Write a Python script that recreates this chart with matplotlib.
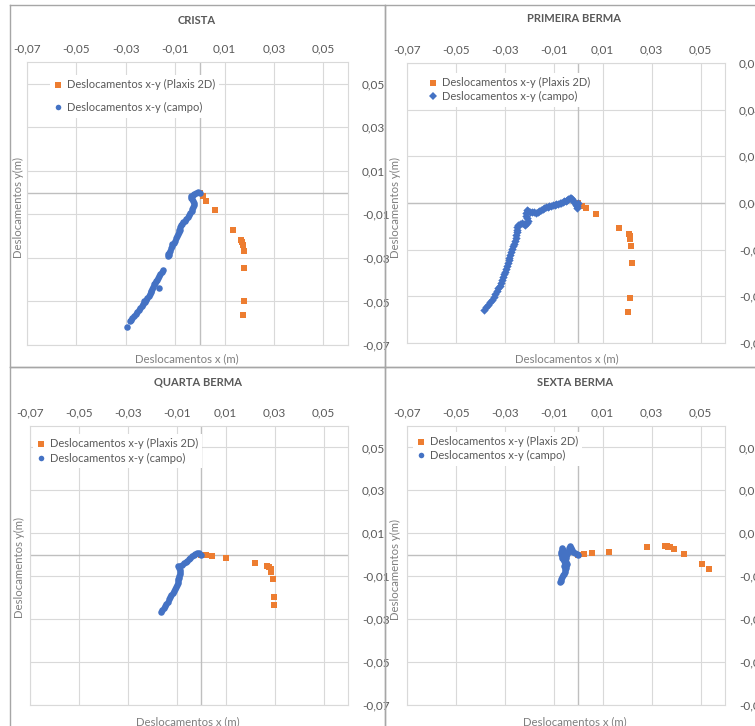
import numpy as np
import matplotlib
matplotlib.use("Agg")
import matplotlib.pyplot as plt
from matplotlib.lines import Line2D

plt.rcParams['font.family'] = ['Lato', 'DejaVu Sans']

W, H = 755, 726

# ---------------- data ----------------
titles = ["CRISTA", "PRIMEIRA BERMA", "QUARTA BERMA", "SEXTA BERMA"]
label_plaxis = "Deslocamentos x-y (Plaxis 2D)"
label_campo = "Deslocamentos x-y (campo)"
x_title = "Deslocamentos x (m)"
y_title = "Deslocamentos y(m)"

x_ticks = [-0.07, -0.05, -0.03, -0.01, 0.01, 0.03, 0.05]
y_ticks_a = [-0.07, -0.05, -0.03, -0.01, 0.01, 0.03, 0.05]
y_ticks_b = [-0.06, -0.04, -0.02, 0.00, 0.02, 0.04, 0.06]

# CRISTA
crista_plaxis_x = [0.0, 0.0011, 0.0024, 0.0060, 0.0134, 0.0167, 0.0170, 0.0173, 0.0177, 0.0177, 0.0177, 0.0173]
crista_plaxis_y = [0.0, -0.0016, -0.0037, -0.0078, -0.0174, -0.0217, -0.0228, -0.0240, -0.0270, -0.0346, -0.0500, -0.0561]
crista_campo_x = [0.0, -0.0008, -0.0015, -0.0022, -0.0029, -0.0035, -0.0037, -0.0031, -0.0026, -0.0024,
                  -0.0023, -0.0026, -0.0030, -0.0033, -0.0038, -0.0044, -0.0050, -0.0056, -0.0061, -0.0067,
                  -0.0073, -0.0078, -0.0080, -0.0082, -0.0086, -0.0089, -0.0093, -0.0096, -0.0101, -0.0106,
                  -0.0111, -0.0116, -0.0120, -0.0124, -0.0127, -0.0129, -0.0125,
                  -0.0150, -0.0155, -0.0160, -0.0165, -0.0170, -0.0175, -0.0180, -0.0185, -0.0190, -0.0195,
                  -0.0199, -0.0203, -0.0207, -0.0212, -0.0217, -0.0223, -0.0229, -0.0235, -0.0241, -0.0247,
                  -0.0253, -0.0259, -0.0266, -0.0273, -0.0280, -0.0284, -0.0297, -0.0165,
                  -0.0178, -0.0198, -0.0226, -0.0085, -0.0112]
crista_campo_y = [0.0, 0.0001, -0.0002, -0.0006, -0.0010, -0.0016, -0.0023, -0.0030, -0.0038, -0.0047,
                  -0.0056, -0.0066, -0.0076, -0.0085, -0.0095, -0.0105, -0.0113, -0.0122, -0.0130, -0.0137,
                  -0.0144, -0.0150, -0.0160, -0.0170, -0.0180, -0.0190, -0.0200, -0.0210, -0.0220, -0.0232,
                  -0.0244, -0.0256, -0.0266, -0.0276, -0.0283, -0.0289, -0.0286,
                  -0.0354, -0.0364, -0.0374, -0.0384, -0.0394, -0.0403, -0.0413, -0.0422, -0.0432, -0.0444,
                  -0.0455, -0.0465, -0.0474, -0.0484, -0.0494, -0.0503, -0.0512, -0.0521, -0.0530, -0.0539,
                  -0.0548, -0.0557, -0.0566, -0.0575, -0.0585, -0.0592, -0.0616, -0.0437,
                  -0.0405, -0.0450, -0.0500, -0.0172, -0.0236]

# PRIMEIRA BERMA
primeira_plaxis_x = [0.0, 0.0014, 0.0032, 0.0073, 0.0167, 0.0208, 0.0212, 0.0213, 0.0216, 0.0219, 0.0213, 0.0204]
primeira_plaxis_y = [0.0, -0.0011, -0.0023, -0.0049, -0.0109, -0.0134, -0.0141, -0.0153, -0.0184, -0.0256, -0.0406, -0.0469]
primeira_campo_x = [0.0, -0.0006, -0.0004, -0.0010, -0.0015, -0.0020, -0.0025, -0.0029, -0.0034, -0.0040,
                    -0.0046, -0.0052, -0.0058, -0.0064, -0.0070, -0.0076, -0.0083, -0.0090, -0.0097, -0.0104,
                    -0.0111, -0.0118, -0.0125, -0.0132, -0.0139, -0.0146, -0.0153, -0.0160, -0.0166, -0.0172,
                    -0.0180, -0.0188, -0.0196, -0.0204, -0.0211, -0.0213, -0.0212, -0.0208, -0.0205, -0.0210,
                    -0.0216, -0.0223, -0.0231, -0.0239, -0.0246, -0.0249, -0.0250, -0.0252, -0.0254, -0.0256,
                    -0.0259, -0.0262, -0.0265, -0.0269, -0.0273, -0.0277, -0.0281, -0.0285, -0.0289, -0.0293,
                    -0.0297, -0.0301, -0.0305, -0.0309, -0.0313, -0.0317, -0.0321, -0.0326, -0.0332, -0.0339,
                    -0.0346, -0.0354, -0.0361, -0.0368, -0.0375, -0.0384]
primeira_campo_y = [0.0, -0.0012, -0.0022, -0.0008, 0.0000, 0.0008, 0.0016, 0.0022, 0.0020, 0.0016,
                    0.0012, 0.0010, 0.0007, 0.0003, 0.0000, -0.0002, -0.0004, -0.0006, -0.0008, -0.0009,
                    -0.0011, -0.0014, -0.0016, -0.0018, -0.0022, -0.0027, -0.0031, -0.0033, -0.0040, -0.0043,
                    -0.0040, -0.0038, -0.0037, -0.0035, -0.0030, -0.0042, -0.0055, -0.0066, -0.0075, -0.0085,
                    -0.0093, -0.0090, -0.0087, -0.0088, -0.0094, -0.0104, -0.0115, -0.0126, -0.0138, -0.0150,
                    -0.0162, -0.0174, -0.0186, -0.0198, -0.0210, -0.0222, -0.0234, -0.0246, -0.0258, -0.0270,
                    -0.0282, -0.0294, -0.0306, -0.0318, -0.0330, -0.0342, -0.0354, -0.0366, -0.0378, -0.0390,
                    -0.0402, -0.0414, -0.0425, -0.0436, -0.0446, -0.0459]

# QUARTA BERMA
quarta_plaxis_x = [0.0, 0.0018, 0.0045, 0.0100, 0.0220, 0.0270, 0.0277, 0.0284, 0.0287, 0.0295, 0.0297, 0.0297]
quarta_plaxis_y = [0.0, 0.0000, -0.0006, -0.0017, -0.0040, -0.0050, -0.0055, -0.0066, -0.0079, -0.0114, -0.0195, -0.0234]
quarta_campo_x = [0.0, -0.0008, -0.0016, -0.0024, -0.0031, -0.0038, -0.0045, -0.0052, -0.0058, -0.0064,
                  -0.0071, -0.0078, -0.0086, -0.0093, -0.0091, -0.0087, -0.0086, -0.0088, -0.0090, -0.0091,
                  -0.0093, -0.0095, -0.0097, -0.0099, -0.0103, -0.0107, -0.0112, -0.0117, -0.0122, -0.0127,
                  -0.0132, -0.0137, -0.0142, -0.0148, -0.0154, -0.0160, -0.0164]
quarta_campo_y = [0.0, 0.0007, 0.0009, 0.0005, 0.0000, -0.0007, -0.0014, -0.0021, -0.0028, -0.0034,
                  -0.0040, -0.0046, -0.0051, -0.0054, -0.0062, -0.0070, -0.0079, -0.0088, -0.0097, -0.0106,
                  -0.0115, -0.0124, -0.0133, -0.0142, -0.0151, -0.0160, -0.0169, -0.0178, -0.0188, -0.0198,
                  -0.0208, -0.0218, -0.0228, -0.0238, -0.0248, -0.0257, -0.0265]

# SEXTA BERMA
sexta_plaxis_x = [0.0, 0.0025, 0.0055, 0.0127, 0.0283, 0.0355, 0.0362, 0.0368, 0.0375, 0.0393, 0.0433, 0.0505, 0.0536]
sexta_plaxis_y = [0.0, 0.0004, 0.0007, 0.0015, 0.0035, 0.0043, 0.0041, 0.0038, 0.0035, 0.0026, 0.0004, -0.0044, -0.0068]
sexta_campo_x = [0.0, -0.0007, -0.0013, -0.0020, -0.0026, -0.0031, -0.0034, -0.0036, -0.0038, -0.0041,
                 -0.0044, -0.0049, -0.0054, -0.0059, -0.0063, -0.0067, -0.0068, -0.0069, -0.0069, -0.0068,
                 -0.0067, -0.0064, -0.0060, -0.0056, -0.0052, -0.0050, -0.0058, -0.0062, -0.0048, -0.0047,
                 -0.0048, -0.0050, -0.0053, -0.0056, -0.0059, -0.0063, -0.0066, -0.0069, -0.0071, -0.0073,
                 -0.0055, -0.0060, -0.0054]
sexta_campo_y = [0.0, 0.0003, 0.0007, 0.0013, 0.0021, 0.0030, 0.0039, 0.0030, 0.0021, 0.0011,
                 0.0002, 0.0004, 0.0008, 0.0014, 0.0021, 0.0030, 0.0022, 0.0013, 0.0004, -0.0005,
                 -0.0014, -0.0022, -0.0030, -0.0024, -0.0016, -0.0008, -0.0008, -0.0004, -0.0036, -0.0045,
                 -0.0054, -0.0063, -0.0072, -0.0080, -0.0088, -0.0096, -0.0104, -0.0112, -0.0120, -0.0127,
                 -0.0040, -0.0050, -0.0060]

# ---------------- style ----------------
ORANGE = "#ED7D31"
BLUE = "#4472C4"
TXT = "#595959"
AXT = "#7F7F7F"
GRID = "#D9D9D9"
AXLINE = "#BFBFBF"
BORDER = "#A6A6A6"

fig = plt.figure(figsize=(W / 100, H / 100), dpi=100)
fig.patch.set_facecolor("white")


def fx(px):
    return px / W


def fy(py):
    return 1 - py / H


def fmt(v):
    s = f"{v:.2f}".replace(".", ",")
    if s == "-0,00":
        s = "0,00"
    return s


panels = [
    dict(title=titles[0], box=(27, 62, 348, 345), ylim=(-0.07, 0.06), yt=y_ticks_a,
         px=crista_plaxis_x, py=crista_plaxis_y, cx=crista_campo_x, cy=crista_campo_y,
         cm="o", title_xy=(197, 20), xl_xy=(187, 359), yl_xy=(18, 207),
         leg_xy=(50, 75), lsp=1.05),
    dict(title=titles[1], box=(407, 63, 725, 343), ylim=(-0.06, 0.06), yt=y_ticks_b,
         px=primeira_plaxis_x, py=primeira_plaxis_y, cx=primeira_campo_x, cy=primeira_campo_y,
         cm="D", title_xy=(574, 19), xl_xy=(567, 359), yl_xy=(395, 207),
         leg_xy=(425, 73), lsp=0.25),
    dict(title=titles[2], box=(30, 426, 348, 705), ylim=(-0.07, 0.06), yt=y_ticks_a,
         px=quarta_plaxis_x, py=quarta_plaxis_y, cx=quarta_campo_x, cy=quarta_campo_y,
         cm="o", title_xy=(198, 382), xl_xy=(188, 722), yl_xy=(19, 567),
         leg_xy=(33, 434), lsp=0.3),
    dict(title=titles[3], box=(407, 426, 725, 705), ylim=(-0.07, 0.06), yt=y_ticks_a,
         px=sexta_plaxis_x, py=sexta_plaxis_y, cx=sexta_campo_x, cy=sexta_campo_y,
         cm="o", title_xy=(575, 382), xl_xy=(575, 722), yl_xy=(395, 570),
         leg_xy=(413, 432), lsp=0.25),
]

# chart-area borders
for (x0, y0, x1, y1) in [(10, 5, 385, 367), (385, 5, 800, 367), (10, 367, 385, 800), (385, 367, 800, 800)]:
    fig.add_artist(Line2D([fx(x0), fx(x1), fx(x1), fx(x0), fx(x0)],
                          [fy(y0), fy(y0), fy(y1), fy(y1), fy(y0)],
                          color=BORDER, lw=1.0, transform=fig.transFigure))

for p in panels:
    l, t, r, b = p["box"]
    ax = fig.add_axes([fx(l), fy(b), (r - l) / W, (b - t) / H])
    ax.set_xlim(-0.07, 0.06)
    ax.set_ylim(*p["ylim"])
    ax.set_xticks(x_ticks)
    ax.set_xticklabels([fmt(v) for v in x_ticks])
    ax.set_yticks(p["yt"])
    ax.set_yticklabels([fmt(v) for v in p["yt"]])
    ax.xaxis.tick_top()
    ax.yaxis.tick_right()
    ax.tick_params(axis="x", length=0, pad=5.5, labelsize=8.5, colors=TXT)
    ax.tick_params(axis="y", length=0, pad=10, labelsize=8.5, colors=TXT)
    ax.grid(True, color=GRID, lw=0.8, zorder=0)
    ax.set_axisbelow(True)
    for s in ax.spines.values():
        s.set_color(GRID)
        s.set_linewidth(0.8)
    ax.axvline(0, color=AXLINE, lw=1.0, zorder=1)
    ax.axhline(0, color=AXLINE, lw=1.0, zorder=1)

    ax.scatter(p["px"], p["py"], marker="s", s=20, color=ORANGE, linewidths=0, zorder=3)
    ax.scatter(p["cx"], p["cy"], marker=p["cm"], s=22 if p["cm"] == "o" else 18,
               color=BLUE, linewidths=0, zorder=4)

    handles = [Line2D([], [], ls="none", marker="s", ms=4, color=ORANGE, mew=0),
               Line2D([], [], ls="none", marker=p["cm"], ms=4 if p["cm"] == "o" else 3.6, color=BLUE, mew=0)]
    lx, ly = p["leg_xy"]
    leg = ax.legend(handles, [label_plaxis, label_campo], loc="upper left",
                    bbox_to_anchor=((lx - l) / (r - l), 1 - (ly - t) / (b - t)),
                    frameon=True, fancybox=False, facecolor="white", edgecolor="none", framealpha=1,
                    fontsize=8, handlelength=0.6, handletextpad=0.5, labelspacing=p["lsp"],
                    borderpad=0.4, borderaxespad=0)
    for txt in leg.get_texts():
        txt.set_color(TXT)
    leg.set_zorder(5)

    fig.text(fx(p["title_xy"][0]), fy(p["title_xy"][1]), p["title"], ha="center", va="center",
             fontsize=8, fontweight="bold", color=TXT)
    fig.text(fx(p["xl_xy"][0]), fy(p["xl_xy"][1]), x_title, ha="center", va="center",
             fontsize=8.2, color=AXT)
    fig.text(fx(p["yl_xy"][0]), fy(p["yl_xy"][1]), y_title, ha="center", va="center",
             fontsize=8.2, color=AXT, rotation=90)

fig.savefig("out.png", dpi=100)
